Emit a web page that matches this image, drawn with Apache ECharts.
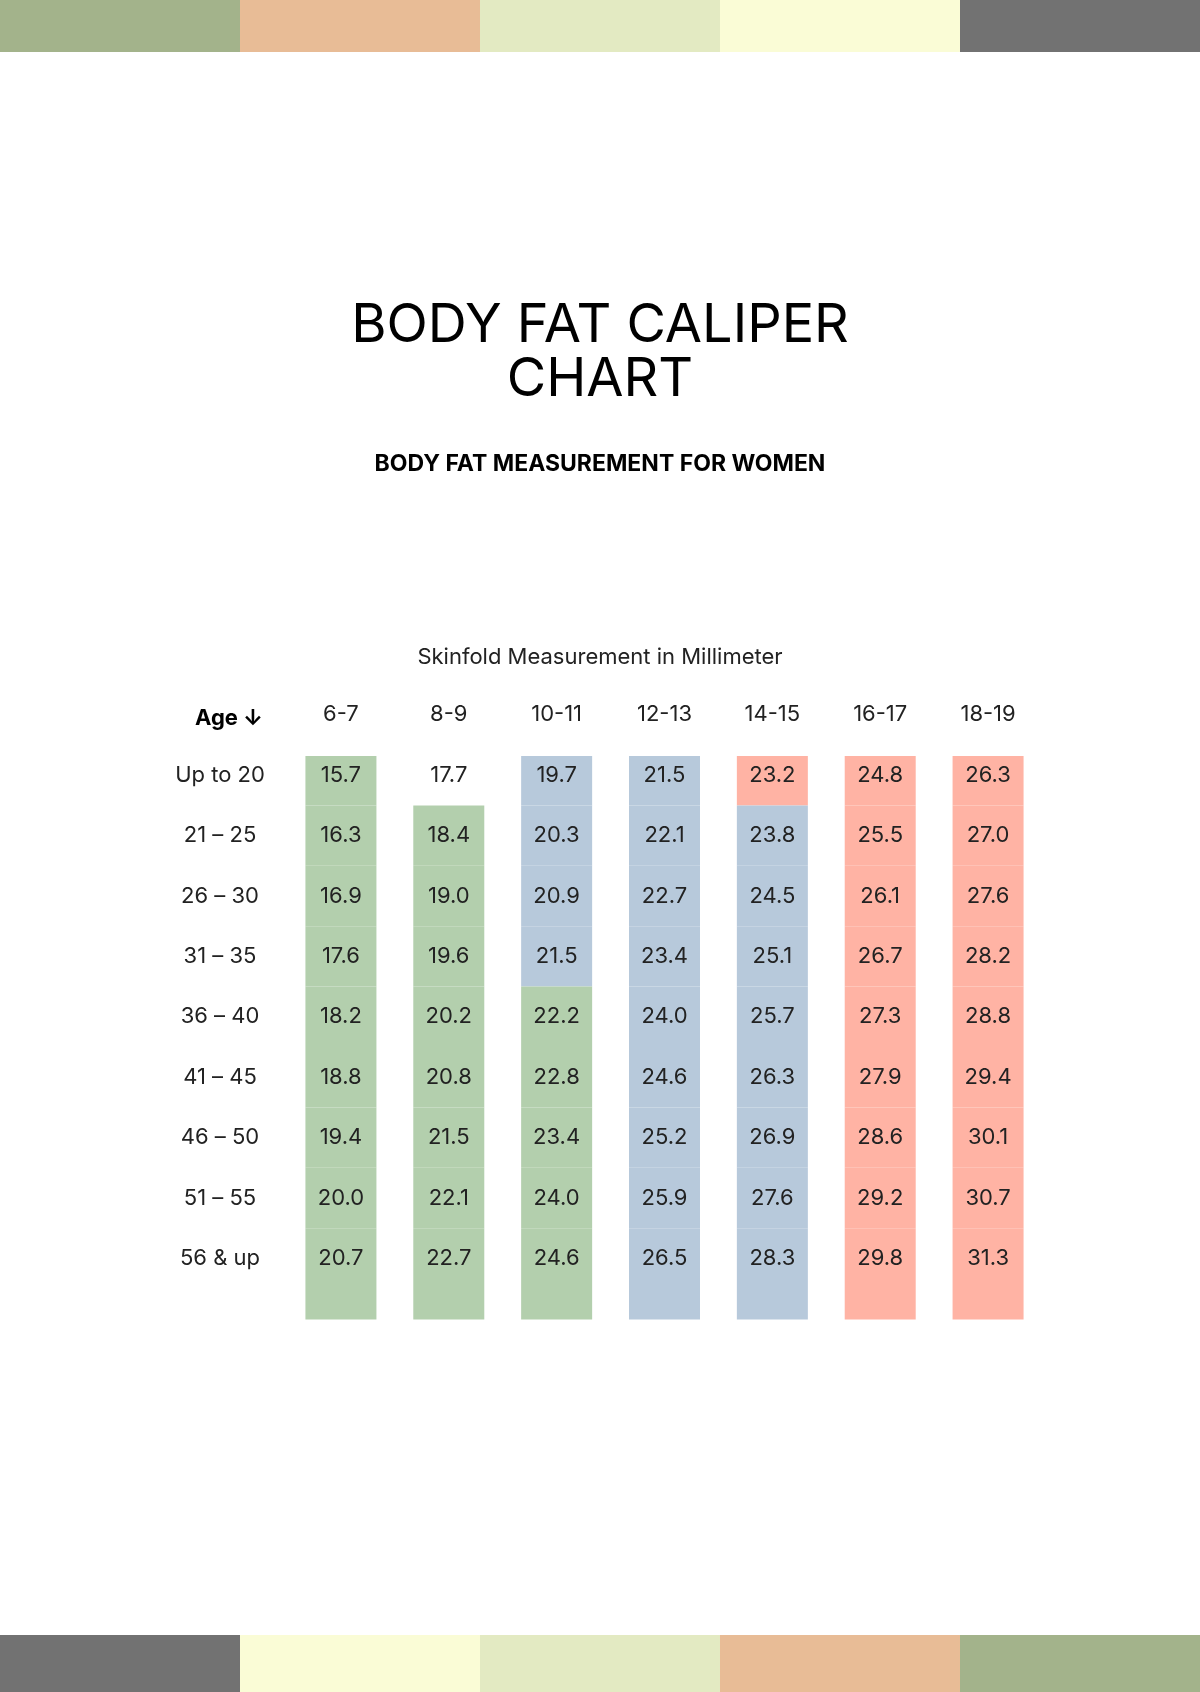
<!DOCTYPE html>
<html><head><meta charset="utf-8">
<script src="https://cdn.jsdelivr.net/npm/echarts@6/dist/echarts.min.js"></script>
<style>html,body{margin:0;padding:0;background:#fff}#c{width:1200px;height:1692px}</style>
</head><body><div id="c"></div>
<script>
const columns = ['6-7','8-9','10-11','12-13','14-15','16-17','18-19'];
const ages = ['Up to 20','21 – 25','26 – 30','31 – 35','36 – 40','41 – 45','46 – 50','51 – 55','56 & up'];
const col67   = [15.7,16.3,16.9,17.6,18.2,18.8,19.4,20.0,20.7];
const col89   = [17.7,18.4,19.0,19.6,20.2,20.8,21.5,22.1,22.7];
const col1011 = [19.7,20.3,20.9,21.5,22.2,22.8,23.4,24.0,24.6];
const col1213 = [21.5,22.1,22.7,23.4,24.0,24.6,25.2,25.9,26.5];
const col1415 = [23.2,23.8,24.5,25.1,25.7,26.3,26.9,27.6,28.3];
const col1617 = [24.8,25.5,26.1,26.7,27.3,27.9,28.6,29.2,29.8];
const col1819 = [26.3,27.0,27.6,28.2,28.8,29.4,30.1,30.7,31.3];
const zone67   = ['g','g','g','g','g','g','g','g','g'];
const zone89   = ['n','g','g','g','g','g','g','g','g'];
const zone1011 = ['b','b','b','b','g','g','g','g','g'];
const zone1213 = ['b','b','b','b','b','b','b','b','b'];
const zone1415 = ['r','b','b','b','b','b','b','b','b'];
const zone1617 = ['r','r','r','r','r','r','r','r','r'];
const zone1819 = ['r','r','r','r','r','r','r','r','r'];

const vals = [col67,col89,col1011,col1213,col1415,col1617,col1819];
const zones = [zone67,zone89,zone1011,zone1213,zone1415,zone1617,zone1819];
const zoneColor = {g:'#b3cfad', b:'#b7c9db', r:'#ffb3a4', n:'rgba(0,0,0,0)'};
const data = [];
vals.forEach((col,ci)=>col.forEach((v,ri)=>data.push([ci,ri,v,zones[ci][ri]])));

const FONT = 'Inter, "Liberation Sans", sans-serif';
const topColors = ['#a3b38b','#e8bc96','#e3eac2','#fafcd6','#727272'];
const graphics = [];
topColors.forEach((c,i)=>{
  graphics.push({type:'rect',shape:{x:i*240,y:0,width:240,height:52},style:{fill:c}});
  graphics.push({type:'rect',shape:{x:(4-i)*240,y:1635,width:240,height:57},style:{fill:c}});
});
graphics.push({type:'text',x:600,y:353,style:{text:'BODY FAT CALIPER\nCHART',font:'54px '+FONT,fill:'#000',textAlign:'center',textVerticalAlign:'middle',lineHeight:54}});
graphics.push({type:'text',x:600,y:464,style:{text:'BODY FAT MEASUREMENT FOR WOMEN',font:'bold 23px '+FONT,fill:'#000',textAlign:'center',textVerticalAlign:'middle'}});
graphics.push({type:'text',x:600,y:657,style:{text:'Skinfold Measurement in Millimeter',font:'22px '+FONT,fill:'#222',textAlign:'center',textVerticalAlign:'middle'}});
graphics.push({type:'text',x:229,y:718,style:{text:'Age ↓',font:'bold 22px '+FONT,fill:'#000',textAlign:'center',textVerticalAlign:'middle'}});

const chart = echarts.init(document.getElementById('c'));
chart.setOption({
  backgroundColor:'#fff',
  animation:false,
  graphic:graphics,
  grid:{left:287,width:755,top:745,height:604},
  xAxis:{type:'category',position:'top',data:columns,axisLine:{show:false},axisTick:{show:false},
    axisLabel:{fontSize:22,color:'#222',fontFamily:FONT,margin:20},splitLine:{show:false}},
  yAxis:{type:'category',inverse:true,data:ages.concat(['']),axisLine:{show:false},axisTick:{show:false},
    axisLabel:{fontSize:22,color:'#222',fontFamily:FONT,margin:67,align:'center'},splitLine:{show:false}},
  series:[{
    type:'custom',
    data:data,
    renderItem:function(params,api){
      const ci=api.value(0), ri=api.value(1), v=api.value(2);
      const z=data[params.dataIndex][3];
      const c=api.coord([ci,ri]);
      const w=71;
      let top=c[1]-30.2, h=60.4;
      if(ri===0){top+=11;h-=11;}
      if(ri===8){h+=31;}
      return {type:'group',children:[
        {type:'rect',shape:{x:c[0]-w/2,y:top,width:w,height:h},style:{fill:zoneColor[z]}},
        {type:'text',x:c[0],y:c[1],style:{text:v.toFixed(1),font:'22px '+FONT,fill:'#222',textAlign:'center',textVerticalAlign:'middle'}}
      ]};
    }
  }]
});
</script></body></html>
